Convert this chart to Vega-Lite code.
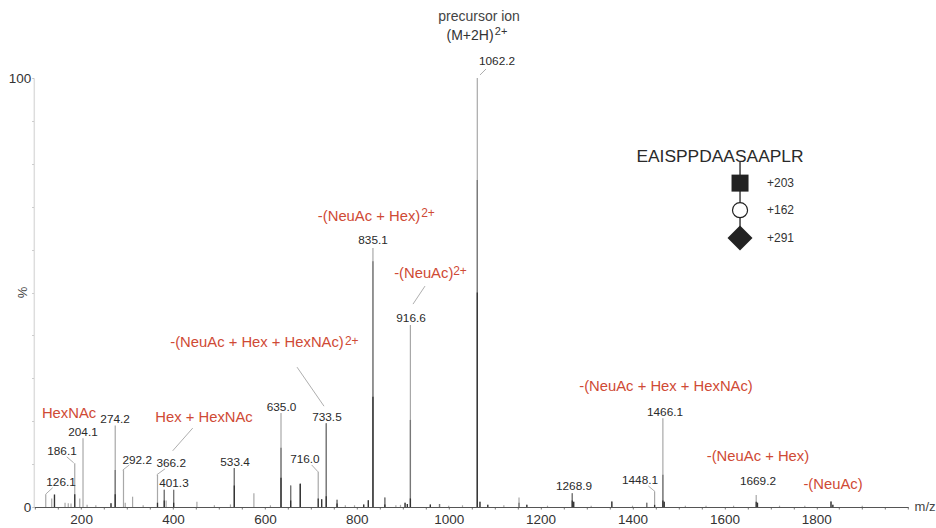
{
"$schema":"https://vega.github.io/schema/vega-lite/v6.json",
"width":874.4,"height":429,
"autosize":"none",
"padding":{"left":33.8,"top":78,"right":27.8,"bottom":21},
"background":"white",
"config":{"view":{"stroke":null},"text":{"font":"Liberation Sans"},"axis":{"labelFont":"Liberation Sans","titleFont":"Liberation Sans","grid":false}},
"datasets":{
"peaks":[
{"mz":123,"pct":3.0},{"mz":136,"pct":2.0},{"mz":142,"pct":2.9},{"mz":165,"pct":1.0},{"mz":172,"pct":0.9},{"mz":178,"pct":0.8},
{"mz":186.1,"pct":10.2},{"mz":197,"pct":2.0},{"mz":204.1,"pct":16},{"mz":213,"pct":0.5},{"mz":232,"pct":0.4},{"mz":265,"pct":0.9},
{"mz":274.2,"pct":19},{"mz":292.2,"pct":8.6},{"mz":296,"pct":1.0},{"mz":312,"pct":2.4},{"mz":335,"pct":0.4},{"mz":366.2,"pct":7.5},
{"mz":381,"pct":4},{"mz":385,"pct":1.5},{"mz":401.3,"pct":4},{"mz":452,"pct":1.2},{"mz":490,"pct":0.4},{"mz":525,"pct":0.6},
{"mz":533.4,"pct":9.1},{"mz":576,"pct":3.2},{"mz":612,"pct":0.4},{"mz":635,"pct":21.9},{"mz":656,"pct":5},
{"mz":677,"pct":5.4},{"mz":716,"pct":8.2},{"mz":723.5,"pct":1.8},{"mz":733.5,"pct":19.5},
{"mz":757,"pct":1.7},{"mz":775,"pct":0.4},{"mz":795,"pct":0.4},{"mz":815,"pct":0.6},{"mz":825,"pct":1.6},
{"mz":835.1,"pct":60.4},{"mz":861,"pct":2.2},{"mz":885,"pct":0.4},{"mz":895,"pct":0.5},{"mz":905,"pct":1},{"mz":910,"pct":0.7},
{"mz":916.6,"pct":42.4},{"mz":960,"pct":0.6},{"mz":980,"pct":0.7},{"mz":1000,"pct":0.3},{"mz":1030,"pct":0.4},
{"mz":1062.2,"pct":100},{"mz":1068,"pct":1.2},{"mz":1085,"pct":0.5},{"mz":1120,"pct":0.4},{"mz":1153,"pct":2.2},{"mz":1170,"pct":0.5},
{"mz":1215,"pct":0.3},{"mz":1268.9,"pct":3.2},{"mz":1272,"pct":1.2},{"mz":1310,"pct":0.3},{"mz":1355,"pct":1.3},{"mz":1400,"pct":0.3},
{"mz":1431,"pct":1},{"mz":1448.1,"pct":3.6},{"mz":1466.1,"pct":20.7},{"mz":1469,"pct":1.2},{"mz":1515,"pct":0.3},{"mz":1560,"pct":0.3},{"mz":1620,"pct":0.3},
{"mz":1669.2,"pct":2.8},{"mz":1672,"pct":1},{"mz":1720,"pct":0.3},{"mz":1775,"pct":0.3},{"mz":1832,"pct":1.3},{"mz":1836,"pct":0.5},{"mz":1900,"pct":0.3}
],
"midPeaks":[
{"mz":274.2,"pct":8.6},{"mz":381,"pct":4},{"mz":401.3,"pct":4},{"mz":533.4,"pct":9.1},{"mz":635,"pct":13.8},{"mz":656,"pct":5},{"mz":677,"pct":5.4},{"mz":733.5,"pct":19.5},{"mz":757,"pct":1.7},{"mz":835.1,"pct":57.3},{"mz":861,"pct":2.2},{"mz":916.6,"pct":20.3},{"mz":980,"pct":0.7},{"mz":1062.2,"pct":76.2},{"mz":1153,"pct":1},{"mz":1268.9,"pct":3.2},{"mz":1431,"pct":1},{"mz":1466.1,"pct":7.5}
],
"corePeaks":[
{"mz":142,"pct":2.9},{"mz":186.1,"pct":3},{"mz":265,"pct":0.9},{"mz":274.2,"pct":3},{"mz":366.2,"pct":1},{"mz":381,"pct":1.5},{"mz":401.3,"pct":1},{"mz":533.4,"pct":5},{"mz":635,"pct":6.8},{"mz":656,"pct":1.5},{"mz":677,"pct":5.4},{"mz":716,"pct":2},{"mz":723.5,"pct":1.8},{"mz":733.5,"pct":2.5},{"mz":757,"pct":0.8},{"mz":815,"pct":0.6},{"mz":825,"pct":1.6},{"mz":835.1,"pct":25.7},{"mz":861,"pct":0.6},{"mz":905,"pct":1},{"mz":910,"pct":0.7},{"mz":916.6,"pct":2},{"mz":960,"pct":0.6},{"mz":1062.2,"pct":50},{"mz":1068,"pct":1.2},{"mz":1085,"pct":0.5},{"mz":1170,"pct":0.5},{"mz":1268.9,"pct":1.5},{"mz":1272,"pct":1.2},{"mz":1355,"pct":1.3},{"mz":1448.1,"pct":0.5},{"mz":1466.1,"pct":1.5},{"mz":1469,"pct":1.2},{"mz":1669.2,"pct":1.2},{"mz":1672,"pct":1},{"mz":1832,"pct":1.3},{"mz":1836,"pct":0.5}
],
"leaders":[
{"mz":1068.1,"pct":100.7,"mz2":1081.2,"pct2":102.1},{"mz":948.4,"pct":51.5,"mz2":922.3,"pct2":47.3},{"mz":669.9,"pct":32.6,"mz2":728.6,"pct2":23.5},
{"mz":442.9,"pct":18.4,"mz2":399.3,"pct2":13.1},{"mz":168.7,"pct":11.7,"mz2":183.9,"pct2":10.3},{"mz":138.2,"pct":4.5,"mz2":123,"pct2":3.0},
{"mz":304.9,"pct":9.8,"mz2":290.5,"pct2":8.6},{"mz":382.6,"pct":8.9,"mz2":364.5,"pct2":7.5},{"mz":701.8,"pct":9.8,"mz2":715.6,"pct2":8.2},{"mz":1434.4,"pct":4.9,"mz2":1449,"pct2":3.6}
],
"peakLabels":[
{"mz":1105.1,"pct":104,"label":"1062.2"},{"mz":835.3,"pct":62.2,"label":"835.1"},{"mz":918,"pct":44.1,"label":"916.6"},{"mz":735,"pct":21,"label":"733.5"},
{"mz":636,"pct":23.3,"label":"635.0"},{"mz":687,"pct":11.2,"label":"716.0"},{"mz":535,"pct":10.5,"label":"533.4"},{"mz":396,"pct":10.3,"label":"366.2"},
{"mz":402,"pct":5.6,"label":"401.3"},{"mz":322,"pct":11,"label":"292.2"},{"mz":274,"pct":20.6,"label":"274.2"},{"mz":204,"pct":17.5,"label":"204.1"},
{"mz":158.4,"pct":13.1,"label":"186.1"},{"mz":156.3,"pct":5.8,"label":"126.1"},{"mz":1272.7,"pct":4.9,"label":"1268.9"},{"mz":1416.3,"pct":6.3,"label":"1448.1"},
{"mz":1470.7,"pct":22.1,"label":"1466.1"},{"mz":1673,"pct":6.1,"label":"1669.2"}
],
"redLabels":[
{"mz":173.7,"pct":21.7,"label":"HexNAc"},{"mz":467.5,"pct":20.7,"label":"Hex + HexNAc"},{"mz":582.8,"pct":38.2,"label":"-(NeuAc + Hex + HexNAc)"},
{"mz":826.6,"pct":67.6,"label":"-(NeuAc + Hex)"},{"mz":945.6,"pct":54.3,"label":"-(NeuAc)"},{"mz":1472.9,"pct":28,"label":"-(NeuAc + Hex + HexNAc)"},
{"mz":1673,"pct":11.7,"label":"-(NeuAc + Hex)"},{"mz":1836.4,"pct":5.1,"label":"-(NeuAc)"}
],
"redSup":[{"mz":789,"pct":38.8,"label":"2+"},{"mz":955,"pct":68.5,"label":"2+"},{"mz":1024.6,"pct":55,"label":"2+"}],
"glycanLine":[{"mz":1634,"pct":80.4,"pct2":62.7}],
"square":[{"mz":1634,"pct":75.5}],
"circle":[{"mz":1634,"pct":69.2}],
"diamond":[{"mz":1634,"pct":62.7}],
"masses":[{"mz":1692.7,"pct":75.5,"label":"+203"},{"mz":1692.7,"pct":69.2,"label":"+162"},{"mz":1692.7,"pct":62.7,"label":"+291"}],
"sequence":[{"mz":1590.4,"pct":81.6,"label":"EAISPPDAASAAPLR"}],
"precursor":[{"mz":1066,"pct":114.2,"label":"precursor ion"}],
"precursorIon":[{"mz":1046.4,"pct":109.8,"label":"(M+2H)"}],
"precursorSup":[{"mz":1114,"pct":110.7,"label":"2+"}],
"axisName":[{"mz":2036.6,"pct":0,"label":"m/z"}],
"percentSign":[{"mz":73.6,"pct":50,"label":"%"}]
},
"encoding":{
"x":{"field":"mz","type":"quantitative","scale":{"domain":[97,2000],"nice":false,"zero":false},
"axis":{"title":null,"values":[100,150,200,250,300,350,400,450,500,550,600,650,700,750,800,850,900,950,1000,1050,1100,1150,1200,1250,1300,1350,1400,1450,1500,1550,1600,1650,1700,1750,1800,1850,1900,1950,2000],
"labelExpr":"datum.value % 200 === 0 && datum.value < 2000 ? datum.value : ''","labelFontSize":13.5,"labelColor":"#333","labelPadding":3,"tickSize":2,"tickColor":"#777","domainColor":"#555","domainWidth":1,"labelOverlap":false,"labelFlush":false}},
"y":{"field":"pct","type":"quantitative","scale":{"domain":[0,100],"nice":false},
"axis":{"title":null,"values":[0,10,20,30,40,50,60,70,80,90,100],
"labelExpr":"datum.value === 0 || datum.value === 100 ? datum.value : ''","labelFontSize":13.5,"labelColor":"#333","labelPadding":1,"tickSize":2,"tickColor":"#bbb","domainColor":"#ddd","domainWidth":1.5,"labelOverlap":false,"labelFlush":false}}
},
"layer":[
{"data":{"name":"peaks"},"mark":{"type":"rule","color":"#a8a8a8","strokeWidth":1.2},"encoding":{"y2":{"datum":0}}},
{"data":{"name":"midPeaks"},"mark":{"type":"rule","color":"#777","strokeWidth":1.3},"encoding":{"y2":{"datum":0}}},
{"data":{"name":"corePeaks"},"mark":{"type":"rule","color":"#333","strokeWidth":1.3},"encoding":{"y2":{"datum":0}}},
{"data":{"name":"leaders"},"mark":{"type":"rule","color":"#999","strokeWidth":0.8},"encoding":{"x2":{"field":"mz2"},"y2":{"field":"pct2"}}},
{"data":{"name":"peakLabels"},"mark":{"type":"text","fontSize":11.8,"color":"#2a2a2a","align":"center","baseline":"middle"},"encoding":{"text":{"field":"label"}}},
{"data":{"name":"redLabels"},"mark":{"type":"text","fontSize":14.8,"color":"#cf4a35","align":"center","baseline":"middle"},"encoding":{"text":{"field":"label"}}},
{"data":{"name":"redSup"},"mark":{"type":"text","fontSize":12,"color":"#cf4a35","align":"center","baseline":"middle"},"encoding":{"text":{"field":"label"}}},
{"data":{"name":"glycanLine"},"mark":{"type":"rule","color":"#222","strokeWidth":1.3},"encoding":{"y2":{"field":"pct2"}}},
{"data":{"name":"square"},"mark":{"type":"point","shape":"square","filled":true,"color":"#222","size":289,"opacity":1},"encoding":{}},
{"data":{"name":"circle"},"mark":{"type":"point","shape":"circle","filled":true,"fill":"white","stroke":"#222","strokeWidth":1.2,"size":227,"opacity":1},"encoding":{}},
{"data":{"name":"diamond"},"mark":{"type":"point","shape":"diamond","filled":true,"color":"#222","size":625,"opacity":1},"encoding":{}},
{"data":{"name":"masses"},"mark":{"type":"text","fontSize":12,"color":"#333","align":"left","baseline":"middle"},"encoding":{"text":{"field":"label"}}},
{"data":{"name":"sequence"},"mark":{"type":"text","fontSize":17.4,"color":"#2a2a2a","align":"center","baseline":"middle"},"encoding":{"text":{"field":"label"}}},
{"data":{"name":"precursor"},"mark":{"type":"text","fontSize":14,"color":"#444","align":"center","baseline":"middle"},"encoding":{"text":{"field":"label"}}},
{"data":{"name":"precursorIon"},"mark":{"type":"text","fontSize":14,"color":"#333","align":"center","baseline":"middle"},"encoding":{"text":{"field":"label"}}},
{"data":{"name":"precursorSup"},"mark":{"type":"text","fontSize":11,"color":"#333","align":"center","baseline":"middle"},"encoding":{"text":{"field":"label"}}},
{"data":{"name":"axisName"},"mark":{"type":"text","fontSize":13,"color":"#444","align":"center","baseline":"middle"},"encoding":{"text":{"field":"label"}}},
{"data":{"name":"percentSign"},"mark":{"type":"text","fontSize":13,"color":"#444","align":"center","baseline":"middle","angle":270},"encoding":{"text":{"field":"label"}}}
]
}
